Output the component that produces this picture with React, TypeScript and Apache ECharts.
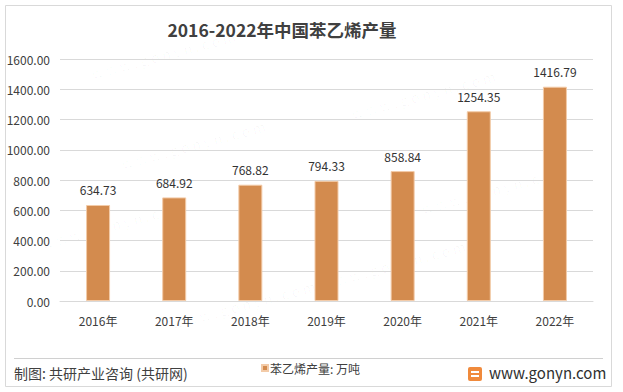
import React, { useEffect, useRef } from "react";
import * as echarts from "echarts";

const categories = ["2016年", "2017年", "2018年", "2019年", "2020年", "2021年", "2022年"];
const values = [634.73, 684.92, 768.82, 794.33, 858.84, 1254.35, 1416.79];
const seriesName = "苯乙烯产量: 万吨";
const titleText = "2016-2022年中国苯乙烯产量";
const sourceText = "制图: 共研产业咨询 (共研网)";
const siteText = "www.gonyn.com";

const FONT = "'Noto Sans CJK SC', 'Noto Sans', sans-serif";

const watermarks = [
  { x: 70, y: 55 }, { x: 330, y: 95 }, { x: 100, y: 145 }, { x: 400, y: 190 },
  { x: 20, y: 225 }, { x: 300, y: 265 }, { x: 150, y: 305 },
];

export default function App() {
  const ref = useRef<HTMLDivElement>(null);
  useEffect(() => {
    document.body.style.margin = "0";
    const chart = echarts.init(ref.current!, null, { renderer: "svg" });
    const wm: any[] = [];
    watermarks.forEach((p) => {
      wm.push({
        type: "text", x: p.x, y: p.y, rotation: 0.26, silent: true, z: 0,
        style: { text: "共研产业咨询", font: `bold 30px ${FONT}`, fill: "rgba(0,0,0,0.025)" },
      });
      wm.push({
        type: "text", x: p.x + 20, y: p.y + 12, rotation: 0.26, silent: true, z: 0,
        style: { text: "w w w . g o n y n . c o m", font: `14px ${FONT}`, fill: "rgba(0,0,0,0.03)" },
      });
    });
    chart.setOption({
      animation: false,
      backgroundColor: "#ffffff",
      textStyle: { fontFamily: FONT },
      title: {
        text: titleText, left: 277, top: 16, textAlign: "center",
        textStyle: { fontSize: 17.5, fontWeight: "bold", color: "#404040", fontFamily: FONT },
      },
      legend: {
        left: 256, top: 357, itemWidth: 6, itemHeight: 6, icon: "rect", itemGap: 2,
        textStyle: { fontSize: 12, color: "#404040", padding: [0, 0, 0, -3] },
        data: [seriesName],
      },
      grid: { left: 60, right: 30, top: 59, bottom: 91, containLabel: false },
      xAxis: {
        type: "category", data: categories,
        axisLine: { lineStyle: { color: "#d9d9d9" } },
        axisTick: { show: false },
        axisLabel: { color: "#404040", fontSize: 12, margin: 13 },
      },
      yAxis: {
        type: "value", min: 0, max: 1600, interval: 200,
        axisLine: { show: false }, axisTick: { show: false },
        splitLine: { lineStyle: { color: "#d9d9d9" } },
        axisLabel: { color: "#404040", fontSize: 12, margin: 10, formatter: (v: number) => v.toFixed(2) },
      },
      series: [{
        name: seriesName, type: "bar", data: values, barWidth: 24,
        itemStyle: { color: "#D38B4E", borderColor: "#F3CBA8", borderWidth: 1 },
        label: {
          show: true, position: "top", distance: 9, color: "#333333", fontSize: 12,
          formatter: (p: any) => p.value.toFixed(2),
        },
        z: 3,
      }],
      graphic: [
        ...wm,
        {
          type: "rect", shape: { x: 5.5, y: 5.5, width: 606, height: 381 }, silent: true,
          style: { fill: "none", stroke: "#d9d9d9", lineWidth: 1 },
        },
        {
          type: "line", shape: { x1: 14, y1: 358.5, x2: 603, y2: 358.5 }, silent: true,
          style: { stroke: "#d0d0d0", lineWidth: 1 },
        },
        {
          type: "text", x: 14, y: 366, silent: true,
          style: { text: sourceText, font: `14px ${FONT}`, fill: "#404040" },
        },
        {
          type: "rect", shape: { x: 468, y: 367, width: 14, height: 14, r: 2 }, silent: true,
          style: { fill: "#F08A3C" },
        },
        {
          type: "rect", shape: { x: 471, y: 371, width: 8, height: 2 }, silent: true,
          style: { fill: "#ffffff" },
        },
        {
          type: "rect", shape: { x: 471, y: 375, width: 8, height: 2 }, silent: true,
          style: { fill: "#ffffff" },
        },
        {
          type: "text", x: 489, y: 365, silent: true,
          style: { text: siteText, font: `15px ${FONT}`, fill: "#303030" },
        },
      ],
    });
    return () => chart.dispose();
  }, []);
  return <div ref={ref} style={{ width: 623, height: 392 }} />;
}
